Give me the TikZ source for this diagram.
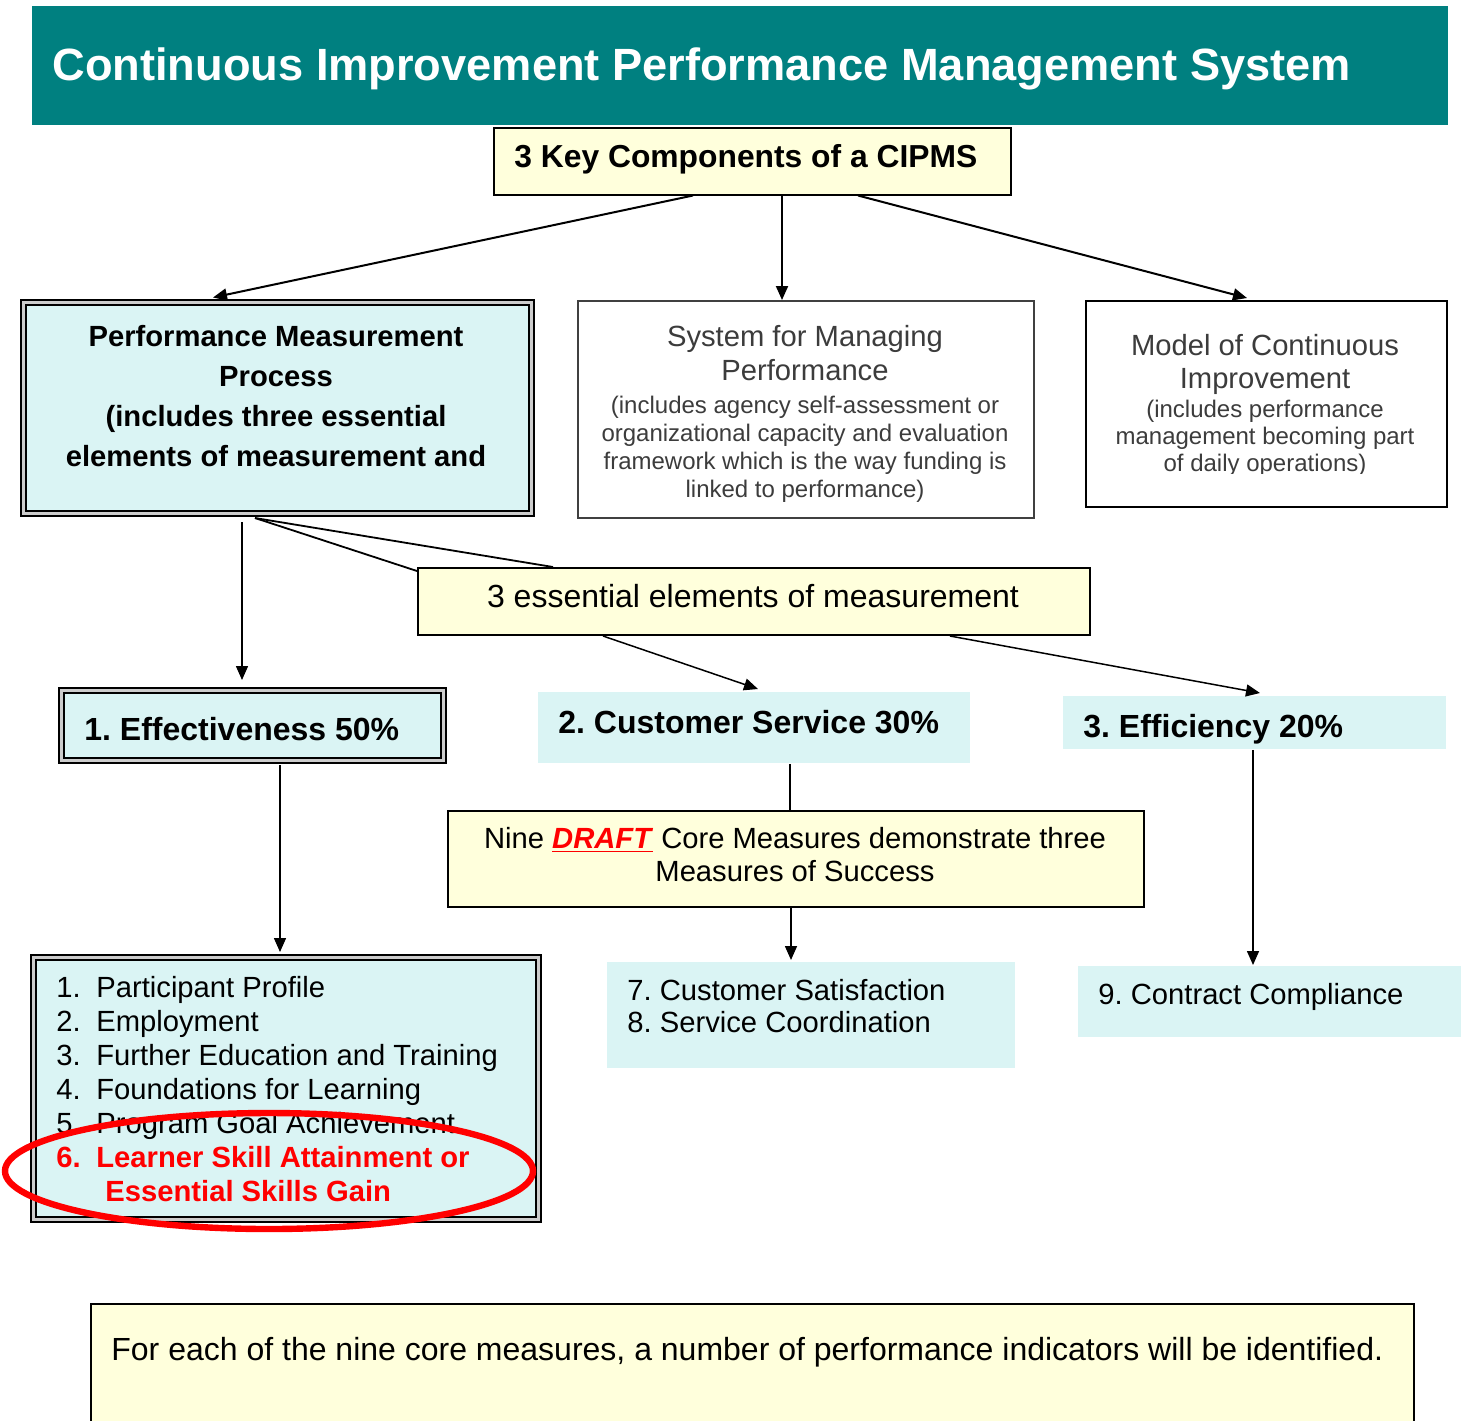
\documentclass[tikz,border=0pt]{standalone}
\usepackage{fontspec}
\setmainfont{Liberation Sans}
\usetikzlibrary{arrows.meta,calc}

\definecolor{banner}{HTML}{008080}
\definecolor{paleaqua}{HTML}{DAF4F4}
\definecolor{paleyellow}{HTML}{FFFFDC}
\definecolor{greytext}{HTML}{3C3C3C}

\tikzset{
  box/.style={rectangle, inner sep=0pt, anchor=north west},
  yellowbox/.style={box, draw=black, line width=1pt, fill=paleyellow},
  aquabox/.style={box, fill=paleaqua},
  doublebox/.style={box, fill=paleaqua, draw=black, line width=1pt, double=black!20, double distance=1.5pt},
  whitebox/.style={box, draw=black, line width=1pt, fill=white},
  label text/.style={inner sep=0pt},
  link/.style={line width=0.75pt},
  arrow/.style={link, -{Triangle[length=7pt,width=6pt]}},
  head/.style={label text, font=\fontsize{16}{19}\selectfont\bfseries},
  plain/.style={label text, font=\fontsize{16}{19}\selectfont},
  body/.style={label text, font=\fontsize{14.6}{17}\selectfont},
}

\begin{document}
\frenchspacing
\begin{tikzpicture}[x=0.5pt,y=-0.5pt]
\useasboundingbox (0,0) rectangle (1461,1420);
\clip (0,0) rectangle (1461,1420);

% title banner
\node[box, fill=banner, minimum width=708pt, minimum height=59.5pt] (banner) at (32,6) {};
\node[anchor=base west, label text, text=white, font=\fontsize{22.6}{27}\selectfont\bfseries] (title) at (52,80) {Continuous Improvement Performance Management System};

% three components
\node[yellowbox, line width=0.75pt, minimum width=258.5pt, minimum height=33.5pt] (key) at (493,127) {};
\node[anchor=base west, label text, font=\fontsize{15.9}{19}\selectfont\bfseries] (keytext) at (514,167) {3 Key Components of a CIPMS};

\node[doublebox, minimum width=254pt, minimum height=105.5pt] (pm) at (22.5,301.5) {};
\node[anchor=north, align=center, label text, font=\fontsize{14.6}{20}\selectfont\bfseries] (pmtext) at (276,325) {Performance Measurement\\Process\\(includes three essential\\elements of measurement and};

\node[whitebox, draw=black!75, line width=0.75pt, minimum width=228pt, minimum height=108.5pt] (sys) at (577,300) {};
\node[anchor=north, align=center, label text, text=greytext, font=\fontsize{14.6}{17}\selectfont] (syshead) at (805,325) {System for Managing\\Performance};
\node[anchor=north, align=center, label text, text=greytext, font=\fontsize{12}{14}\selectfont] (sysnote) at (805,396) {(includes agency self-assessment or\\organizational capacity and evaluation\\framework which is the way funding is\\linked to performance)};

\node[whitebox, minimum width=180.5pt, minimum height=103pt] (model) at (1085,300) {};
\node[anchor=north, align=center, label text, text=greytext, font=\fontsize{14.6}{16.5}\selectfont] (modelhead) at (1265,334) {Model of Continuous\\Improvement};
\begin{scope}
  \clip (1085,300) rectangle (1446,473);
  \node[anchor=north, align=center, label text, text=greytext, font=\fontsize{12}{13.5}\selectfont] (modelnote) at (1265,400) {(includes performance\\management becoming part\\of daily operations)};
\end{scope}

\draw[arrow, line width=1pt] ($(key.south west)+(200,0)$) -- ($(pm.north west)+(190.5,-4)$);
\draw[arrow, line width=1pt] ($(key.south west)+(289,0)$) -- ($(sys.north west)+(205,0)$);
\draw[arrow, line width=1pt] ($(key.south west)+(365,0)$) -- ($(model.north west)+(162,-2)$);

% measurement elements
\node[yellowbox, minimum width=336pt, minimum height=33.5pt] (ess) at (417,567) {};
\node[anchor=base, plain] (esstext) at (753,607) {3 essential elements of measurement};

\draw[link, line width=0.9pt] ($(pm.south west)+(232.5,3.5)$) -- ($(ess.north west)+(0,4)$);
\draw[link, line width=0.9pt] ($(pm.south west)+(232.5,3.5)$) -- ($(ess.north west)+(136,0)$);

\node[doublebox, minimum width=191pt, minimum height=35pt] (eff) at (60.5,689.5) {};
\node[anchor=base west, head] (efftext) at (84,740) {1. Effectiveness 50\%};

\node[aquabox, minimum width=216pt, minimum height=35.5pt] (cs) at (538,692) {};
\node[anchor=base west, head] (cstext) at (558,733) {2. Customer Service 30\%};

\node[aquabox, minimum width=191.5pt, minimum height=26.5pt] (effic) at (1063,696) {};
\node[anchor=base west, head] (effictext) at (1083,737) {3. Efficiency 20\%};

\draw[arrow] ($(pm.south west)+(219.5,7.5)$) -- ($(eff.north west)+(181.5,-9.5)$);
\draw[arrow] ($(ess.south west)+(186,0)$) -- ($(cs.north west)+(220,-3)$);
\draw[arrow] ($(ess.south west)+(533,0)$) -- ($(effic.north west)+(197,-3)$);

% core measures
\node[yellowbox, minimum width=348pt, minimum height=48pt] (draft) at (447,810) {};
\node[anchor=north, align=center, label text, font=\fontsize{14.6}{16.5}\selectfont] (drafttext) at (795,827) {Nine \textcolor{red}{\underline{\textbf{\textit{DRAFT}}}} Core Measures demonstrate three\\Measures of Success};

\node[doublebox, minimum width=252.5pt, minimum height=131pt] (list) at (32.5,956.5) {};
\node[anchor=north west, align=left, body] (listtext) at (56,976) {%
  \makebox[20pt][l]{1.}Participant Profile\\
  \makebox[20pt][l]{2.}Employment\\
  \makebox[20pt][l]{3.}Further Education and Training\\
  \makebox[20pt][l]{4.}Foundations for Learning\\
  \makebox[20pt][l]{5.}Program Goal Achievement\\
  {\color{red}\bfseries\makebox[20pt][l]{6.}Learner Skill Attainment or}\\
  {\color{red}\bfseries\hspace*{24.5pt}Essential Skills Gain}};
\draw[red, line width=3.2pt] (269,1171) ellipse [x radius=132pt, y radius=29pt];

\node[aquabox, minimum width=204pt, minimum height=53pt] (sat) at (607,962) {};
\node[anchor=north west, align=left, label text, font=\fontsize{14.6}{16}\selectfont] (sattext) at (627,979) {7. Customer Satisfaction\\8. Service Coordination};

\node[aquabox, minimum width=191.5pt, minimum height=35.5pt] (comp) at (1078,966) {};
\node[anchor=base west, body] (comptext) at (1098,1004) {9. Contract Compliance};

\draw[arrow] ($(eff.south west)+(219.5,3.5)$) -- ($(list.north west)+(247.5,-4.5)$);
\draw[link] ($(cs.south west)+(252,0)$) -- ($(draft.north west)+(343,0)$);
\draw[arrow] ($(draft.south west)+(344,0)$) -- ($(sat.north west)+(184,-2)$);
\draw[arrow] ($(effic.south west)+(190,0)$) -- ($(comp.north west)+(175,-1)$);

% footnote box
\node[yellowbox, minimum width=661.5pt, minimum height=70pt] (note) at (90,1303) {};
\node[anchor=base west, plain] (notetext) at (111,1360) {For each of the nine core measures, a number of performance indicators will be identified.};
\end{tikzpicture}
\end{document}
